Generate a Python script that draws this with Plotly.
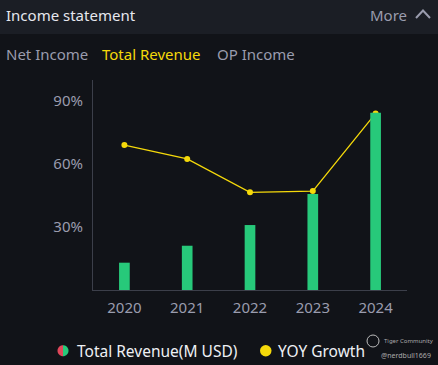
import math
import plotly.graph_objects as go

years = ["2020", "2021", "2022", "2023", "2024"]
revenue = [153, 248, 364, 538, 993]          # Total Revenue (M USD), relative scale
yoy_growth = [69.0, 62.4, 46.5, 47.1, 84.1]  # YOY Growth (%)
y_ticks = [30, 60, 90]
y_tick_labels = ["30%", "60%", "90%"]

W, H = 438, 365
ML, MR, MT, MB = 93, 31, 80, 75
PW, PH = W - ML - MR, H - MT - MB

def px(x):
    return (x - ML) / PW

def py(y):
    return (H - MB - y) / PH

BG = "#111318"
HEADER = "#1b1e25"
GRAY = "#9a9cae"
GREEN = "#27c97a"
YELLOW = "#f5d90a"
FONT = "Noto Sans"

fig = go.Figure()
fig.add_trace(go.Bar(x=years, y=revenue, yaxis="y2", marker=dict(color=GREEN, line=dict(width=0)),
                     width=0.17, name="Total Revenue(M USD)", showlegend=False))
fig.add_trace(go.Scatter(x=years, y=yoy_growth, mode="lines+markers",
                         line=dict(color=YELLOW, width=1.3), marker=dict(color=YELLOW, size=6),
                         name="YOY Growth", showlegend=False))

ymax = 100
y2max = revenue[-1] * ymax / 84.4

def half_circle(cx, cy, r, left=True):
    pts = []
    for i in range(0, 21):
        a = math.pi / 2 + (math.pi * i / 20 if left else -math.pi * i / 20)
        pts.append((cx + r * math.cos(a), cy - r * math.sin(a)))
    return "M " + " L ".join(f"{px(x):.5f} {py(y):.5f}" for x, y in pts) + " Z"

shapes = [
    dict(type="rect", xref="paper", yref="paper", x0=px(0), x1=px(W), y0=py(34), y1=py(0),
         fillcolor=HEADER, line=dict(width=0), layer="below"),
    dict(type="path", xref="paper", yref="paper",
         path=f"M {px(416)} {py(18)} L {px(423)} {py(10.5)} L {px(430)} {py(18)}",
         line=dict(color=GRAY, width=2)),
    dict(type="path", xref="paper", yref="paper", path=half_circle(63, 350.7, 5.5, True),
         fillcolor="#e0475a", line=dict(width=0)),
    dict(type="path", xref="paper", yref="paper", path=half_circle(63, 350.7, 5.5, False),
         fillcolor=GREEN, line=dict(width=0)),
    dict(type="circle", xref="paper", yref="paper", x0=px(260), x1=px(271.5), y0=py(356.5), y1=py(345),
         fillcolor=YELLOW, line=dict(width=0)),
    dict(type="circle", xref="paper", yref="paper", x0=px(367), x1=px(379), y0=py(347), y1=py(335),
         fillcolor="rgba(0,0,0,0)", line=dict(color="#bbbbbb", width=1)),
]

def txt(x, y, s, color, size, anchor="left"):
    return dict(x=px(x), y=py(y), xref="paper", yref="paper", text=s, showarrow=False,
                xanchor=anchor, yanchor="middle", font=dict(color=color, size=size, family=FONT))

annotations = [
    txt(4, 15, "Income statement", "#e6e7ee", 15),
    txt(409, 15, "More", GRAY, 15, "right"),
    txt(4, 54, "Net Income", GRAY, 15),
    txt(100, 54, "Total Revenue", YELLOW, 15),
    txt(215, 54, "OP Income", GRAY, 15),
    txt(75, 351, "Total Revenue(M USD)", "#eef0f4", 15.5),
    txt(276, 351, "YOY Growth", "#eef0f4", 15.5),
    txt(382, 341, "Tiger Community", "#aaaaaa", 6),
    txt(379, 355, "@nerdbull1669", "#aaaaaa", 7),
]

fig.update_layout(
    width=W, height=H, margin=dict(l=ML, r=MR, t=MT, b=MB),
    paper_bgcolor=BG, plot_bgcolor=BG, showlegend=False,
    font=dict(family=FONT, color=GRAY),
    xaxis=dict(showgrid=False, zeroline=False, showline=True, linecolor="#3c3f4a", linewidth=1,
               ticks="", ticklabelstandoff=4, tickfont=dict(size=15, color=GRAY), fixedrange=True),
    yaxis=dict(range=[0, ymax], tickvals=y_ticks, ticktext=y_tick_labels, showgrid=False, zeroline=False,
               showline=True, linecolor="#3c3f4a", linewidth=1, ticks="", ticklabelstandoff=6,
               tickfont=dict(size=15, color=GRAY)),
    yaxis2=dict(range=[0, y2max], overlaying="y", side="right", visible=False),
    shapes=shapes, annotations=annotations,
)

fig.write_html("out.html", config={"displayModeBar": False})
with open("out.html", encoding="utf-8") as f:
    html = f.read()
html = html.replace("<head>", "<head><style>html,body{margin:0;padding:0;overflow:hidden;background:#111318;}</style>", 1)
with open("out.html", "w", encoding="utf-8") as f:
    f.write(html)
